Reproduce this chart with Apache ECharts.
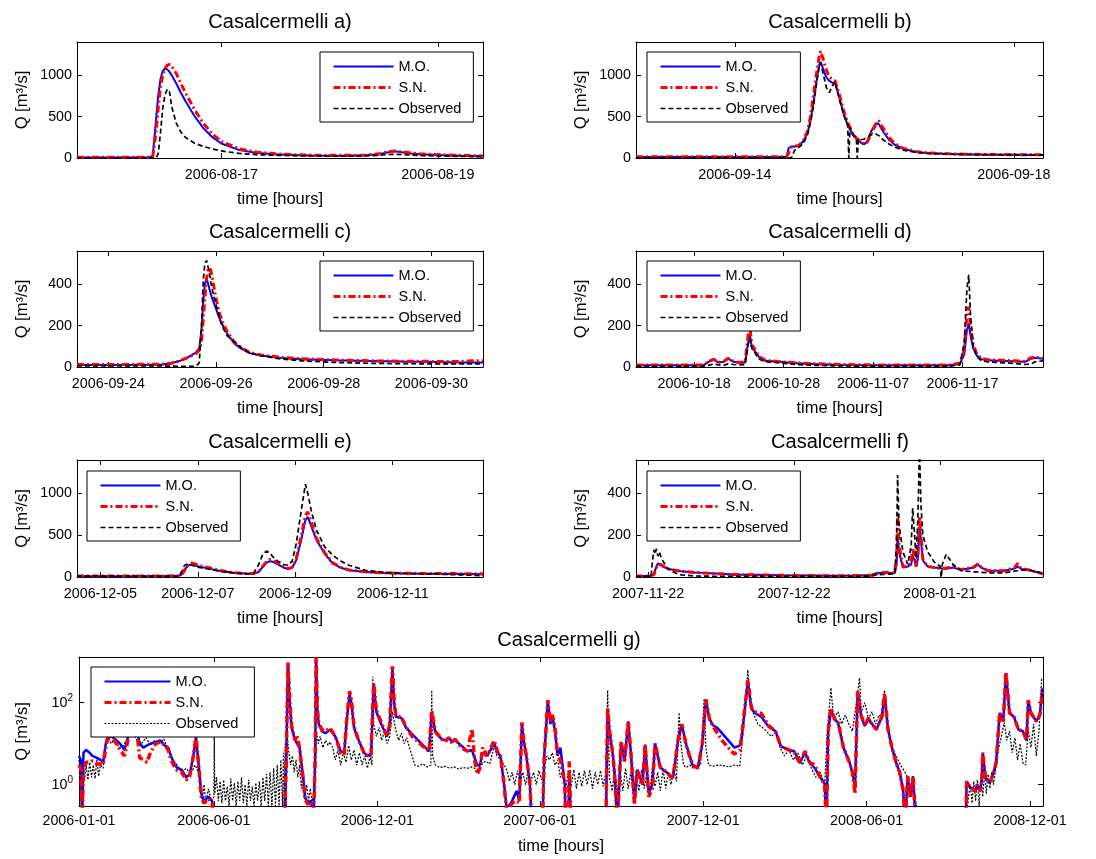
<!DOCTYPE html>
<html><head><meta charset="utf-8">
<script src="https://cdn.jsdelivr.net/npm/echarts@6/dist/echarts.min.js"></script>
<style>html,body{margin:0;padding:0;background:#fff}#c{width:1096px;height:859px}</style>
</head><body><div id="c"></div>
<script>
const FONT = '"Liberation Sans", Arial, Helvetica, sans-serif';

// ---------------- Panel a (hours from start) ----------------
const aStart = '2006-08-15 16:00', aEnd = '2006-08-19 10:00';
const aHours = [0,10,16,16.8,17.5,18,18.5,19,19.5,20,20.5,21,22,23,24,26,28,30,32,36,40,44,48,52,56,60,64,67,69,70.5,72,74,76,80,85,90];
const aMO  = [5,5,5,30,450,750,950,1050,1080,1070,1040,1000,900,790,690,510,360,250,175,95,60,45,35,30,28,28,32,45,70,80,70,55,45,35,28,22];
const aSN  = [8,8,8,20,300,600,850,1000,1080,1120,1130,1110,1020,900,790,590,420,290,200,110,70,50,40,35,32,32,36,50,75,85,75,60,50,40,32,25];
const aObs = [0,0,0,0,0,50,300,600,760,830,800,620,420,316,250,180,140,110,85,55,40,33,28,25,22,22,25,32,42,45,42,35,30,25,20,15];
const aXTicks = ['2006-08-17','2006-08-19'];
const aYTicks = [0,500,1000];

// ---------------- Panel b (hours) ----------------
const bStart = '2006-09-12 14:00', bEnd = '2006-09-18 10:00';
const bHours = [0,50,51.8,52.5,53.5,54.5,56,57.5,59,60,61,62,63,63.5,64.5,65.5,66.5,67.5,68.5,70,71.5,72.8,73.2,73.6,74.5,75.8,76.1,76.5,77.5,78.5,79.5,81,82.5,83.5,85,87,89,92,96,100,108,120,130,140];
const bMO  = [12,12,12,120,140,140,150,200,300,450,650,900,1120,1160,1060,970,930,910,900,720,520,400,370,345,280,230,220,210,180,165,200,330,420,410,320,220,160,110,75,60,48,40,38,35];
const bSN  = [15,15,15,60,130,140,150,210,320,500,750,1000,1220,1290,1180,1060,980,950,930,760,560,430,400,370,300,240,230,220,190,170,190,300,410,450,360,250,175,115,80,62,50,43,40,38];
const bObs = [3,3,3,3,3,90,130,170,280,420,620,880,1100,1150,1000,850,790,870,920,700,520,400,0,370,300,240,0,230,220,230,250,280,290,270,220,170,130,95,70,55,45,40,38,35];
const bXTicks = ['2006-09-14','2006-09-18'];
const bYTicks = [0,500,1000];

// ---------------- Panel c (hours) ----------------
const cStart = '2006-09-23 10:00', cEnd = '2006-09-30 23:00';
const cHours = [0,20,38,42,46,50,53,54.5,55.5,56.3,57,57.8,58.5,59.2,60,61,62,63.5,65,67,70,73,77,82,90,100,115,130,145,160,170,178,181];
const cMO  = [10,10,12,18,30,50,70,90,180,320,400,427,400,370,340,310,280,235,200,160,115,90,67,55,45,38,32,29,26,24,22,22,22];
const cSN  = [12,12,14,18,30,48,65,80,120,230,330,430,470,480,450,390,330,260,215,170,122,95,70,58,48,40,34,30,28,27,27,30,30];
const cObs = [5,5,5,4,3,3,4,20,200,420,500,515,480,440,390,340,300,235,190,150,123,95,67,55,40,30,22,18,16,15,15,15,15];
const cXTicks = ['2006-09-24','2006-09-26','2006-09-28','2006-09-30'];
const cYTicks = [0,200,400];

// ---------------- Panel d (days) ----------------
const dStart = '2006-10-11 12:00', dEnd = '2006-11-26 00:00';
const dDays = [0,4,7.5,8.3,8.7,9.2,9.8,10.3,10.9,11.5,12.2,12.55,12.75,12.95,13.15,13.4,13.8,14.5,16,18,20,23,27,31,35,36.2,36.7,37.0,37.2,37.4,37.7,38.1,38.6,39.3,40.5,42,43.5,44.2,44.6,45.5];
const dMO  = [8,8,8,30,35,22,25,40,25,20,22,120,150,95,90,70,45,30,25,18,14,10,8,8,8,15,60,180,210,150,90,55,38,32,30,28,25,40,45,40];
const dSN  = [10,10,10,30,38,22,28,42,28,22,25,160,190,105,95,75,48,32,26,20,16,12,10,10,10,18,80,260,290,190,110,62,42,35,33,30,28,45,48,42];
const dObs = [3,3,3,10,15,10,8,15,12,10,12,110,140,90,80,60,38,25,20,12,8,5,4,4,4,10,120,380,445,250,100,50,30,25,22,18,12,15,25,30];
const dXTicks = ['2006-10-18','2006-10-28','2006-11-07','2006-11-17'];
const dYTicks = [0,200,400];

// ---------------- Panel e (hours) ----------------
const eStart = '2006-12-04 12:30', eEnd = '2006-12-12 20:30';
const eHours = [0,30,50,51.5,53,55,56.5,60,65,70,77,84,87,89.5,91.5,93.3,95,96.5,99,102,104,106,108,110.5,112.5,113.7,115.5,118,122,126,130,134,142,150,160,175,190,200];
const eMO  = [10,10,12,30,90,140,150,125,100,75,50,38,40,60,120,170,190,180,150,110,95,110,200,450,680,720,600,440,280,160,110,80,60,48,42,38,35,32];
const eSN  = [12,12,14,25,80,150,170,140,110,80,52,40,42,65,130,180,210,200,165,120,100,115,220,500,740,780,650,460,290,170,115,85,62,50,45,42,40,38];
const eObs = [10,10,12,60,140,160,140,115,95,70,48,38,45,150,270,310,290,240,190,150,140,190,400,800,1110,1000,780,560,360,260,190,140,80,60,45,35,25,15];
const eXTicks = ['2006-12-05','2006-12-07','2006-12-09','2006-12-11'];
const eYTicks = [0,500,1000];

// ---------------- Panel f (days) ----------------
const fStart = '2007-11-19 12:00', fEnd = '2008-02-11 05:00';
const fDays = [0,3.1,3.4,3.7,3.9,4.2,4.5,4.8,5.2,5.5,6.5,8,9.3,12,13.4,20.2,29.8,40,45,48.4,49.4,51,53.2,53.6,53.8,54.1,54.9,55.9,56.6,56.9,57.3,57.6,58,58.3,58.6,59,60,61.4,62.6,62.8,63,63.8,65.2,66.9,69.5,70.3,71,72.4,75.8,77.8,78.5,79.2,80.6,83.7];
const fMO  = [5,5,6,15,30,50,65,70,60,50,40,32,28,22,20,12,8,6,7,8,18,20,18,60,200,120,45,50,60,100,80,50,90,240,180,80,50,45,42,40,40,40,45,35,45,60,45,30,30,40,50,38,35,15];
const fSN  = [5,5,6,12,25,45,60,62,58,50,40,32,28,22,20,12,8,6,7,8,18,22,20,100,300,150,50,55,70,140,90,50,110,290,200,85,50,45,42,40,40,42,50,35,48,62,48,30,30,45,65,40,35,15];
const fObs = [3,3,80,130,110,135,100,120,90,95,40,20,10,5,4,3,3,3,3,4,10,12,15,150,488,250,120,60,150,330,200,90,300,620,350,200,120,70,50,0,60,109,60,30,25,25,22,20,20,28,30,33,35,18];
const fXTicks = ['2007-11-22','2007-12-22','2008-01-21'];
const fYTicks = [0,200,400];

// ---------------- Panel g (days from 2006-01-01, log scale) ----------------
const gStart = '2006-01-01 00:00', gEnd = '2008-12-15 12:00';
const gSimDays = [0,2,3.5,5,8,12,15,20,24,27,30,33,38,42,46,51,56,60,65,68,72,76,80,86,91,96,100,103,106,110,115,120,124,128,131,134,137,140,145,149,152,230,232,234,236,238,242,244,247,249,251,253,256,260,262.5,264.5,265.5,267,268.5,272,276,281,287,293,297,300,303,305,308,312,319,323,327,330,333,337,340,345,348,351,353,355,361,366,373,380,388,392,395,399,406,410,414,418,421,428,435,440,443,446,449,452,457,465,469,472,476,479,485,490,493,496,498,501,505,507,519,521,525,528,530,533,536,539,541,544,545,548,549,551,590,592,594,598,600,603,607,611,615,618,622,625,631,634,638,642,645,651,658,665,671,675,680,687,693,698,702,706,710,715,720,727,734,740,742,749,753,757,764,772,780,786,795,801,807,813,818,824,830,835,837,839,842,846,850,856,863,866,869,872,876,880,884,888,893,899,902,906,910,915,919,923,925,928,931,934,937,993,994,997,1003,1006,1009,1011,1012,1015,1020,1024,1027,1031,1035,1038,1042,1047,1052,1057,1061,1063,1066,1072,1076,1079];
const gMO = [5,4,0.1,6,7,6,5,4.5,4,3.5,10,17,14,12,10,7,18,25,20,10,8,9,10,11,12,9,8,5,3.5,2.5,2.3,1.5,1.8,5,14,3,0.6,0.4,0.5,0.4,0.1,0.1,3,900,100,25,12,13,8,3.4,1.6,0.5,0.35,0.4,0.1,5,1200,60,30,20,18,22,15,6.5,6,40,160,100,24,14,6,5,5.5,280,60,35,25,15,30,650,90,45,42,25,17,12,8,6.5,60,19,13,12,14,11,12,9,6.5,7,4.5,3,3,6,5,10,6,5,1,0.25,0.4,0.7,0.4,30,12,5,1,0.1,0.1,5,110,30,50,20,5,8,3.7,1,0.1,0.1,2,0.1,0.1,70,20,5,1.4,0.1,11,3.7,35,6,0.35,2.3,1,9.5,0.6,1,10,2.6,2,1.45,13,29,9.5,3,2.6,10,115,40,28,24,18,12,8,9,14,320,70,56,45,26,20,8.6,7,6.5,3.4,6,3.5,2.5,1.5,1.05,0.1,20,65,40,32,8,3.4,2,0.9,180,45,27,42,30,22,45,160,22,8.6,3.4,2,0.7,0.1,1.6,0.5,1.6,0.1,0.1,1.2,0.9,0.7,1.0,0.7,1.3,6,1.5,1.1,1.9,3.4,56,35,530,56,45,22,20,12,115,56,35,50,228];
const gSN = [3,2.5,0.1,2.5,3.5,3.5,3.8,3.2,3.2,3,8,16,13,10,7,5,16,22,18,4.5,4,3.5,6,10,11,9,7,4,3,2.2,2,1.3,1.6,5,15,3,0.5,0.35,0.45,0.35,0.1,0.1,3,950,110,28,12,16,8,3,1.4,0.45,0.33,0.38,0.1,5,1300,65,32,22,20,24,15,6,5.5,45,190,120,26,14,6,5,5.5,300,65,40,28,15,30,770,100,48,45,26,15,11,7.5,6.5,65,20,13,11,14,10,13,8,6.5,23,4,1.8,2.5,8,5,12,6,5,1,0.2,0.35,0.4,0.35,33,12,5,1,0.1,0.1,5,115,35,50,25,5,4,3.7,1,0.1,0.1,3.7,0.1,0.1,75,22,5,1.4,0.1,11,3.7,35,6,0.32,2.3,1,9.5,0.5,0.8,10,2.6,2,1.4,13,30,9,3,2.5,10,120,40,26,18,12,8,5.5,7,14,360,75,60,55,28,20,8.6,7,6,3.4,6.5,3.5,3,1.5,1,0.1,20,75,40,35,8,3.4,2,0.6,190,48,27,42,30,22,45,170,22,8.6,3.4,2,0.7,0.1,1.6,0.5,1.6,0.1,0.1,1.2,0.9,0.7,1.0,0.7,1.3,6,1.5,1.1,1.9,3.4,56,35,560,56,45,22,20,12,115,56,35,50,228];
const gObsDays = [0,2,4,6,8,10,12,14,16,18,20,22,24,27,30,33,36,40,45,50,55,60,65,70,75,80,85,90,95,100,105,110,115,120,125,130,134,136,138,140,142,145,148,151,151.5,152,154,156,158,160,162,164,166,168,170,172,174,176,178,180,182,184,186,188,190,192,194,196,198,200,202,204,206,208,210,212,214,216,218,220,222,224,226,228,229,230,231,232,233,235,237,239,241,243,245,247,249,251,253,255,257,259,261,263,266,268,270,273,276,279,281,284,287,290,293,296,299,302,305,308,311,314,317,320,323,326,328,329,330,333,336,339,342,345,348,351,355,358,361,364,367,370,373,376,380,385,390,394,395,396,399,404,410,415,420,425,430,435,440,446,450,455,460,465,468,472,476,479,482,485,488,491,494,497,500,503,506,509,512,515,518,521,524,527,530,533,536,539,542,545,548,551,554,557,560,563,566,569,572,575,578,581,584,587,590,592,594,597,600,603,606,609,612,615,618,621,624,627,630,633,636,639,642,645,648,651,654,657,660,663,666,669,672,674,677,680,684,688,692,696,700,702,705,710,716,722,728,734,740,745,749,752,756,760,765,770,775,780,785,790,795,800,805,810,815,820,825,830,835,838,842,845,850,854,858,862,866,870,874,876,880,884,888,892,896,900,902,906,910,915,920,925,928,931,934,937,940,994,996,998,1000,1002,1004,1006,1008,1010,1012,1014,1016,1018,1020,1022,1024,1027,1030,1033,1036,1039,1042,1045,1048,1051,1054,1057,1060,1063,1066,1069,1072,1075,1078];
const gObs = [4,1.5,3.5,1.2,3,1.3,3.5,1.5,3,1.4,4,1.6,3,2.5,10,15,10,13,8,9,15,18,12,10,14,9,12,10,13,7,4,3,2,2.5,1.8,3,2,0.8,0.4,1,0.35,0.8,0.4,0.5,16,0.6,1.5,0.4,1.2,0.35,1.3,0.4,0.9,0.3,1.4,0.4,1.1,0.3,1.2,0.4,1.5,0.35,1,0.3,1.3,0.4,0.9,0.3,1.1,0.4,1.2,0.3,1.5,0.4,1.8,0.3,2,0.3,2.5,0.3,3,0.3,4,0.3,6,0.3,10,0.3,18,6,3,5,2,4,1.5,3,0.8,2,0.5,1,0.4,0.8,0.35,0.6,20,10,15,8,12,9,11,8,4,7,3,6,3.5,9,4,7,3,6,3,5,2.5,5,3,430,30,15,25,12,20,10,15,60,20,12,18,10,14,8,5,3,2.8,3.2,2.7,3,200,5,3,2.6,2.8,2.5,2.7,2.4,2.6,2.5,2.7,2.3,3,3.7,3.2,9,5,4,3,2.3,1.2,2,1,2.2,1.1,2,1,2.3,1.2,2,1,2.2,1.3,2.5,5,4,6,3,4,1.5,2.3,0.8,2,0.9,2.3,0.8,2,0.9,2.2,1,2.3,0.8,2,1,2.2,0.9,2,200,1.5,0.7,2.5,0.6,2,0.7,2.5,0.8,2,0.6,1.8,0.7,2.3,0.8,2,0.6,2.5,0.9,2,0.7,2.4,0.8,2,1,2.5,1.2,57,10,3,2.6,3,2.5,2.8,3,125,8,3,2.8,3,2.9,2.7,3,2.8,40,630,80,50,30,25,20,15,18,8,5,7,4,6,3,5,2.5,1.5,2,1,20,230,40,60,30,50,30,20,80,400,60,100,40,60,30,50,40,200,20,8,5,3,2,1.5,0.5,1,0.4,0.15,0.15,0.5,1,0.35,1.2,0.4,1.3,0.3,1.5,0.5,2,0.6,1.8,0.8,2,1,3,8,15,33,12,20,6,14,4,10,3.4,3,22,8,30,5,20,400];
const gXTicks = ['2006-01-01','2006-06-01','2006-12-01','2007-06-01','2007-12-01','2008-06-01','2008-12-01'];
const gYTicks = [1,100];

// ---------------- helpers ----------------
const H = 3600e3, D = 86400e3;
function ts(s){
  const [d, t] = s.split(' ');
  const [Y, M, Dd] = d.split('-').map(Number);
  const [hh, mm] = (t || '00:00').split(':').map(Number);
  return new Date(Y, M - 1, Dd, hh, mm).getTime();
}
function pad(n){ return (n < 10 ? '0' : '') + n; }
function fmtDate(v){ const d = new Date(v); return d.getFullYear() + '-' + pad(d.getMonth() + 1) + '-' + pad(d.getDate()); }
function build(start, offs, vals, unit){
  const t0 = ts(start);
  const n = Math.min(offs.length, vals.length);
  const out = [];
  for (let i = 0; i < n; i++) out.push([t0 + offs[i] * unit, vals[i]]);
  return out;
}

const panels = [
  {title:'Casalcermelli a)', tx:280, ty:12, grid:{left:77,top:42,width:406,height:116}, start:aStart, end:aEnd,
   mo:build(aStart,aHours,aMO,H), sn:build(aStart,aHours,aSN,H), obs:build(aStart,aHours,aObs,H), xt:aXTicks, yt:aYTicks, ymax:1400, lg:{left:320, top:52}},
  {title:'Casalcermelli b)', tx:840, ty:12, grid:{left:636,top:42,width:407,height:116}, start:bStart, end:bEnd,
   mo:build(bStart,bHours,bMO,H), sn:build(bStart,bHours,bSN,H), obs:build(bStart,bHours,bObs,H), xt:bXTicks, yt:bYTicks, ymax:1400, lg:{left:647, top:52}},
  {title:'Casalcermelli c)', tx:280, ty:222, grid:{left:77,top:251,width:406,height:116}, start:cStart, end:cEnd,
   mo:build(cStart,cHours,cMO,H), sn:build(cStart,cHours,cSN,H), obs:build(cStart,cHours,cObs,H), xt:cXTicks, yt:cYTicks, ymax:560, lg:{left:320, top:261}},
  {title:'Casalcermelli d)', tx:840, ty:222, grid:{left:636,top:251,width:407,height:116}, start:dStart, end:dEnd,
   mo:build(dStart,dDays,dMO,D), sn:build(dStart,dDays,dSN,D), obs:build(dStart,dDays,dObs,D), xt:dXTicks, yt:dYTicks, ymax:560, lg:{left:647, top:261}},
  {title:'Casalcermelli e)', tx:280, ty:432, grid:{left:77,top:460,width:406,height:117}, start:eStart, end:eEnd,
   mo:build(eStart,eHours,eMO,H), sn:build(eStart,eHours,eSN,H), obs:build(eStart,eHours,eObs,H), xt:eXTicks, yt:eYTicks, ymax:1400, lg:{left:87, top:471}},
  {title:'Casalcermelli f)', tx:840, ty:432, grid:{left:636,top:460,width:407,height:117}, start:fStart, end:fEnd,
   mo:build(fStart,fDays,fMO,D), sn:build(fStart,fDays,fSN,D), obs:build(fStart,fDays,fObs,D), xt:fXTicks, yt:fYTicks, ymax:560, lg:{left:647, top:471}},
  {title:'Casalcermelli g)', tx:569, ty:630, grid:{left:79,top:657,width:964,height:149}, start:gStart, end:gEnd, log:true,
   mo:build(gStart,gSimDays,gMO,D), sn:build(gStart,gSimDays,gSN,D), obs:build(gStart,gObsDays,gObs,D), xt:gXTicks, yt:gYTicks, lg:{left:91, top:667}}
];

const black = '#000';
const axisLine = {show:true, onZero:false, lineStyle:{color:black, width:1}};
const titles = [], grids = [], xAxes = [], yAxes = [], series = [], legends = [];

panels.forEach((p, i) => {
  titles.push({text:p.title, left:p.tx, top:p.ty, textAlign:'center', padding:0,
    textStyle:{fontSize:20, fontWeight:'normal', color:black, fontFamily:FONT}});
  grids.push(Object.assign({show:false}, p.grid));
  const xt = p.xt.map(s => ts(s));
  const xmin = ts(p.start), xmax = ts(p.end);
  xAxes.push({type:'value', gridIndex:i, position:'bottom', min:xmin, max:xmax, scale:true,
    axisLine, splitLine:{show:false},
    axisTick:{show:true, inside:true, length:5, customValues:xt, lineStyle:{color:black}},
    axisLabel:{show:true, customValues:xt, formatter:fmtDate, color:black, fontSize:14.3, fontFamily:FONT, margin:p.log ? 8 : 10, hideOverlap:false},
    name:'time [hours]', nameLocation:'middle', nameGap:p.log ? 32 : 33,
    nameTextStyle:{fontSize:16.5, color:black, fontFamily:FONT}});
  xAxes.push({type:'value', gridIndex:i, position:'top', min:xmin, max:xmax, scale:true,
    axisLine, splitLine:{show:false},
    axisTick:{show:true, inside:true, length:5, customValues:xt, lineStyle:{color:black}},
    axisLabel:{show:false}});
  const yBase = p.log
    ? {type:'log', logBase:10, min:0.3, max:1300}
    : {type:'value', min:0, max:p.ymax};
  yAxes.push(Object.assign({}, yBase, {gridIndex:i, position:'left',
    axisLine, splitLine:{show:false},
    axisTick:{show:true, inside:true, length:5, customValues:p.yt, lineStyle:{color:black}},
    axisLabel: p.log ? {show:true, customValues:p.yt, margin:6,
        formatter: v => '{b|10}{s|' + Math.round(Math.log10(v)) + '}',
        rich:{b:{fontSize:14.3, color:black, fontFamily:FONT}, s:{fontSize:10, color:black, fontFamily:FONT, padding:[0,0,9,0]}}}
      : {show:true, customValues:p.yt, formatter: v => String(v), color:black, fontSize:14.3, fontFamily:FONT, margin:5},
    name:'Q [m³/s]', nameLocation:'middle', nameRotate:90, nameGap:p.log ? 48 : 46,
    nameTextStyle:{fontSize:16.5, color:black, fontFamily:FONT}}));
  yAxes.push(Object.assign({}, yBase, {gridIndex:i, position:'right',
    axisLine, splitLine:{show:false},
    axisTick:{show:true, inside:true, length:5, customValues:p.yt, lineStyle:{color:black}},
    axisLabel:{show:false}}));

  const xi = 2 * i, yi = 2 * i;
  const common = {type:'line', xAxisIndex:xi, yAxisIndex:yi, showSymbol:false, symbol:'none', animation:false, clip:true};
  const moS = Object.assign({}, common, {name:'M.O.', color:'#0000ff', data:p.mo, lineStyle:{color:'#0000ff', width:p.log ? 2.5 : 2, type:'solid'}, z:3});
  const snS = Object.assign({}, common, {name:'S.N.', color:'#ff0000', data:p.sn, lineStyle:{color:'#ff0000', width:p.log ? 3.5 : 3, type:[7,3,2,3]}, z:4});
  let obsS;
  if (p.log) {
    obsS = Object.assign({}, common, {name:'Observed ', color:'#000', data:p.obs, lineStyle:{color:'#000', width:1.2, type:[2,1.5]}, z:2});
    series.push(obsS, moS, snS);
  } else {
    obsS = Object.assign({}, common, {name:'Observed', color:black, data:p.obs, lineStyle:{color:black, width:1.7, type:[5,3]}, z:5});
    series.push(moS, snS, obsS);
  }
  legends.push({data: p.log ? ['M.O.','S.N.','Observed '] : ['M.O.','S.N.','Observed'],
    orient:'vertical', left:p.lg.left, top:p.lg.top,
    itemWidth: p.log ? 66 : 60, itemHeight:14, itemGap:6, itemTextGap:7,
    padding:[7,12,6,12], backgroundColor:'#fff', borderColor:black, borderWidth:1, borderRadius:0,
    textStyle:{fontSize:14.5, color:black, fontFamily:FONT},
    itemStyle:{color:'rgba(0,0,0,0)', borderColor:'rgba(0,0,0,0)', borderWidth:0, opacity:0},
    lineStyle:{width:'inherit'}, selectedMode:false, z:10});
});

const chart = echarts.init(document.getElementById('c'), null, {renderer:'canvas'});
chart.setOption({
  backgroundColor:'#fff', animation:false,
  title:titles, grid:grids, xAxis:xAxes, yAxis:yAxes, legend:legends, series:series
});
</script>
</body></html>
